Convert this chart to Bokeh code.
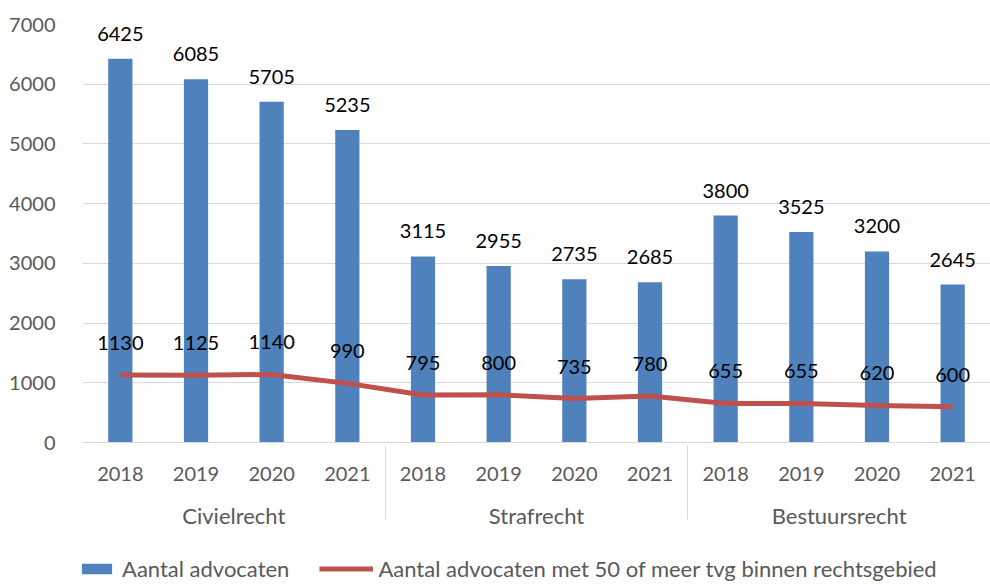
from bokeh.plotting import figure
from bokeh.layouts import column
from bokeh.models import (FactorRange, ColumnDataSource, Legend, LegendItem,
                          FixedTicker, Range1d, LabelSet)
from bokeh.core.properties import value
from bokeh.embed import file_html
from bokeh.resources import INLINE

groups = ["Civielrecht", "Strafrecht", "Bestuursrecht"]
years = ["2018", "2019", "2020", "2021"]
advocaten = [6425, 6085, 5705, 5235, 3115, 2955, 2735, 2685, 3800, 3525, 3200, 2645]
advocaten_50 = [1130, 1125, 1140, 990, 795, 800, 735, 780, 655, 655, 620, 600]
y_ticks = [0, 1000, 2000, 3000, 4000, 5000, 6000, 7000]
series_names = ["Aantal advocaten",
                "Aantal advocaten met 50 of meer tvg binnen rechtsgebied"]

FONT = "Lato"
BLUE = "#4F81BD"
RED = "#C0504D"
GRAY_TXT = "#595959"
GRID = "#D9D9D9"
NUM_SIZE = "20px"
WORD_SIZE = "22px"

factors = [(g, y) for g in groups for y in years]
src = ColumnDataSource(dict(
    x=factors,
    bars=advocaten,
    line=advocaten_50,
    bar_lbl=[str(v) for v in advocaten],
    line_lbl=[str(v) for v in advocaten_50],
))

p = figure(
    x_range=FactorRange(*factors, group_padding=0, factor_padding=0, range_padding=0),
    y_range=Range1d(0, 7000),
    width=990, height=548,
    output_backend="svg", toolbar_location=None,
    min_border_left=82, min_border_right=0, min_border_top=24, min_border_bottom=106,
    outline_line_color=None,
)

p.vbar(x="x", top="bars", width=0.32, source=src, color=BLUE, line_color=None)
p.line(x="x", y="line", source=src, line_color=RED, line_width=5)

p.add_layout(LabelSet(x="x", y="bars", text="bar_lbl", source=src, text_align="center",
                      text_baseline="bottom", y_offset=18, text_font_size=NUM_SIZE,
                      text_font=value(FONT), text_color="black"))
p.add_layout(LabelSet(x="x", y="line", text="line_lbl", source=src, text_align="center",
                      text_baseline="bottom", y_offset=25, text_font_size=NUM_SIZE,
                      text_font=value(FONT), text_color="black"))

p.yaxis.ticker = FixedTicker(ticks=y_ticks)
p.yaxis.axis_line_color = None
p.yaxis.major_tick_line_color = None
p.yaxis.minor_tick_line_color = None
p.yaxis.major_label_text_font_size = NUM_SIZE
p.yaxis.major_label_text_font = FONT
p.yaxis.major_label_text_color = GRAY_TXT
p.yaxis.major_label_standoff = 21

p.ygrid.grid_line_color = GRID
p.xgrid.grid_line_color = None

xa = p.xaxis[0]
xa.axis_line_color = GRID
xa.major_tick_line_color = None
xa.minor_tick_line_color = None
xa.major_label_text_font_size = NUM_SIZE
xa.major_label_text_font = FONT
xa.major_label_text_color = GRAY_TXT
xa.group_text_font_size = WORD_SIZE
xa.group_text_font = FONT
xa.group_text_font_style = "normal"
xa.group_text_color = GRAY_TXT
xa.major_label_standoff = 18
xa.separator_line_color = GRID
xa.separator_line_width = 1

# legend strip below the chart (placeholder renderers are hidden; only their legend swatches show)
lg = figure(width=990, height=36, output_backend="svg", toolbar_location=None,
            x_range=Range1d(0, 1), y_range=Range1d(0, 1),
            x_axis_location=None, y_axis_location=None,
            min_border=0, outline_line_color=None)
lg.grid.visible = False
placeholder = ColumnDataSource(dict(x=[0], top=[0], y=[0]))
lb = lg.vbar(x="x", top="top", width=0.3, source=placeholder, color=BLUE, line_color=None,
             visible=False)
ll = lg.line(x="x", y="y", source=placeholder, line_color=RED, line_width=5, visible=False)
legend = Legend(items=[
    LegendItem(label=series_names[0], renderers=[lb]),
    LegendItem(label=series_names[1], renderers=[ll]),
], orientation="horizontal", location=(-19, 2), border_line_alpha=0,
    background_fill_alpha=0, inactive_fill_alpha=0,
    glyph_width=54, glyph_height=13, label_text_font=FONT, label_text_font_size=WORD_SIZE,
    label_text_color=GRAY_TXT, spacing=30, label_standoff=5, margin=0, padding=0)
lg.add_layout(legend)

page = column(p, lg, spacing=0)
open("out.html", "w").write(file_html(page, INLINE))
